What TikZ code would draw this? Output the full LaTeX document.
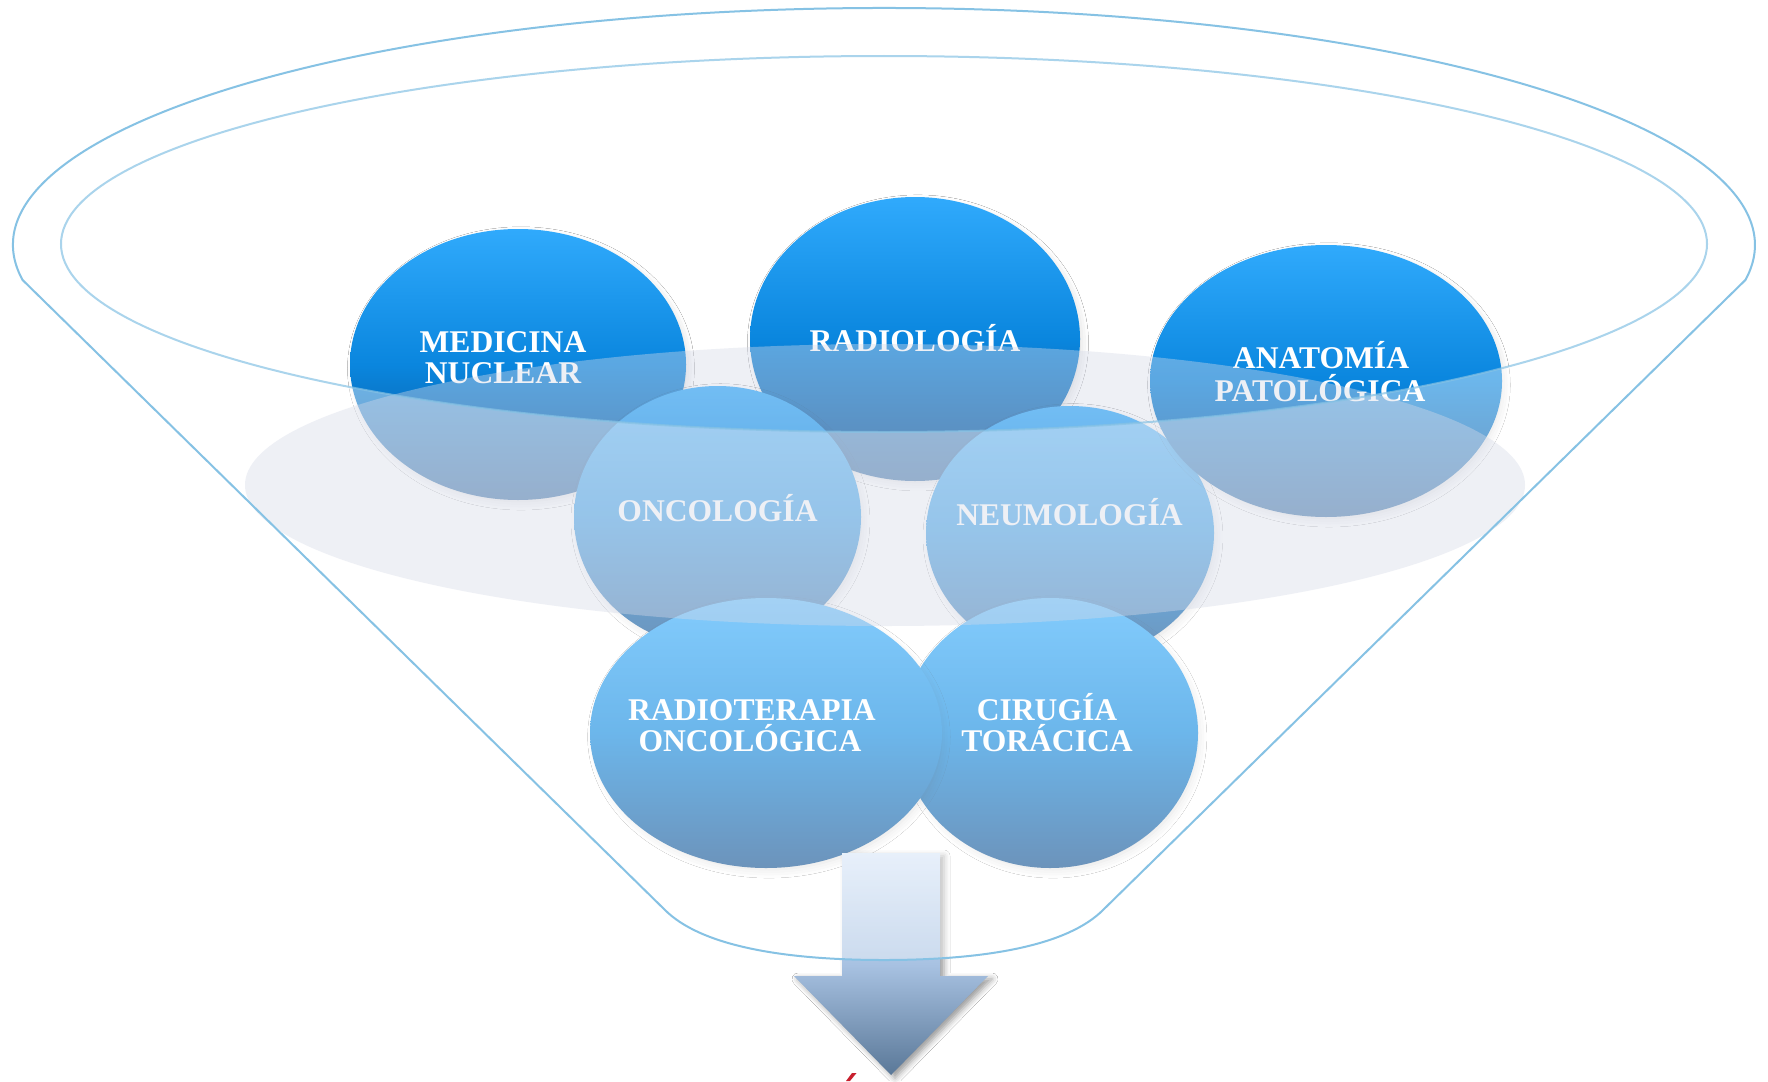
\documentclass[tikz,border=0pt]{standalone}
\usepackage{fontspec}
\setmainfont{Liberation Serif}
\usetikzlibrary{shapes.geometric,shadows.blur}

\definecolor{ctop}{HTML}{30AAFC}
\definecolor{cmid}{HTML}{0A86DE}
\definecolor{cbot}{HTML}{0B4C8E}
\definecolor{fline}{HTML}{86C2E4}
\definecolor{greyell}{HTML}{D5DAE8}
\definecolor{atop}{HTML}{D8E6F8}
\definecolor{amid}{HTML}{A8C2E2}
\definecolor{abot}{HTML}{5A7898}
\definecolor{redmark}{HTML}{C8202E}

\tikzset{
  bubble/.style={ellipse, inner sep=0pt, top color=ctop, bottom color=cbot, middle color=cmid,
    blur shadow={shadow xshift=3pt, shadow yshift=-4pt, shadow blur radius=9pt, shadow opacity=18, shadow scale=0.98}},
  lbl/.style={anchor=base, text=white, inner sep=0pt, font=\bfseries\fontsize{31.6}{31.6}\selectfont},
  funnelline/.style={draw=fline, line width=2pt},
  arrowbody/.style={top color=atop, bottom color=abot, middle color=amid,
    blur shadow={shadow xshift=4pt, shadow yshift=-3pt, shadow blur radius=6pt, shadow opacity=40}},
}

\begin{document}
\begin{tikzpicture}[x=1pt, y=-1pt]
\useasboundingbox (0,0) rectangle (1768,1081);
\fill[white] (0,0) rectangle (1768,1081);

% bubbles (back to front)
\node[bubble, minimum width=336pt, minimum height=271pt] (medicina) at (518,364.5) {};
\node[bubble, minimum width=330pt, minimum height=284pt] (radiologia) at (915,339) {};
\node[bubble, minimum width=288pt, minimum height=254pt] (neumologia) at (1070,533) {};
\node[bubble, minimum width=352pt, minimum height=272pt] (anatomia) at (1326,381) {};
\node[bubble, minimum width=287pt, minimum height=262pt] (oncologia) at (717.5,517) {};
\node[bubble, minimum width=296pt, minimum height=270pt] (cirugia) at (1050,733) {};
\node[bubble, minimum width=352pt, minimum height=270pt] (radioterapia) at (766,733) {};

% labels
\node[lbl] (t1a) at (503,352) {MEDICINA};
\node[lbl] (t1b) at (503,383.5) {NUCLEAR};
\node[lbl] (t2) at (915,351) {RADIOLOGÍA};
\node[lbl] (t3a) at (1321,368) {ANATOMÍA};
\node[lbl] (t3b) at (1320,401) {PATOLÓGICA};
\node[lbl] (t4) at (717.5,521) {ONCOLOGÍA};
\node[lbl] (t5) at (1069.5,525) {NEUMOLOGÍA};
\node[lbl] (t6a) at (752,720) {RADIOTERAPIA};
\node[lbl] (t6b) at (750,751) {ONCOLÓGICA};
\node[lbl] (t7a) at (1047,720) {CIRUGÍA};
\node[lbl] (t7b) at (1047,751) {TORÁCICA};

% output arrow
\path[arrowbody] (842,853) -- (940,853) -- (940,976) -- (988,976) -- (891,1075)
  -- (794,976) -- (842,976) -- cycle;

% funnel glass
\fill[white, opacity=0.4, even odd rule]
  (22.6,280) arc[start angle=171.5, end angle=368.5, x radius=871, y radius=237]
  -- (1103,910) .. controls (1068,945) and (988,960) .. (884,960)
  .. controls (780,960) and (700,945) .. (665,910) -- cycle
  (884,244) ellipse [x radius=823, y radius=188];

% liquid surface
\fill[greyell, opacity=0.4] (885,485) ellipse [x radius=640, y radius=141];

% funnel outlines
\draw[funnelline]
  (22.6,280) arc[start angle=171.5, end angle=368.5, x radius=871, y radius=237]
  -- (1103,910) .. controls (1068,945) and (988,960) .. (884,960)
  .. controls (780,960) and (700,945) .. (665,910) -- cycle;
\draw[funnelline, opacity=0.7] (884,244) ellipse [x radius=823, y radius=188];

% red accent mark at the bottom edge
\fill[redmark] (846,1081) -- (852,1073) -- (856.5,1073) -- (850,1081) -- cycle;
\end{tikzpicture}
\end{document}
